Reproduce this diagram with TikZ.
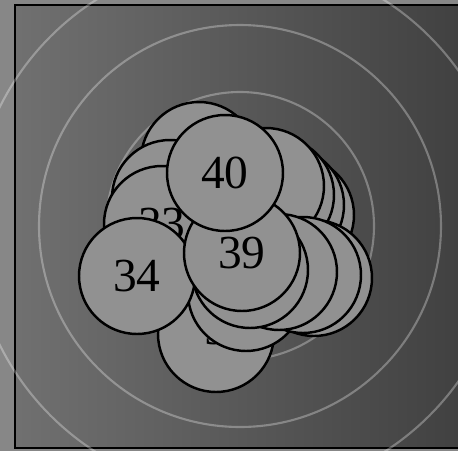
\documentclass[tikz,border=0pt]{standalone}
\usepackage{fontspec}
\setmainfont{Liberation Serif}
\usepackage{tikz}

\begin{document}
\begin{tikzpicture}[
  x=0.02cm, y=-0.02cm,
  disk/.style={circle, draw, fill=black!43, line width=1.4pt, minimum size=2.32cm, inner sep=0pt, font=\fontsize{27}{27}\selectfont},
  ring/.style={draw=white, draw opacity=0.3, line width=1.2pt}
]
\useasboundingbox (0,0) rectangle (458,451);
\clip (0,0) rectangle (458,451);
\fill[black!47] (0,0) rectangle (458,451);
\shade[left color=black!56, right color=black!75] (15,5) rectangle (470,448);
\draw[line width=1.2pt] (15,5) rectangle (470,448);

\coordinate (c) at (240,226);
\foreach \r in {134,201,268}
  \draw[ring] (c) circle[radius=\r];

\node[disk] (n9) at (216,334) {\raisebox{0.22cm}{9}};
\foreach \name/\xx/\yy in {e/246/293, l/296/215, p/286/205, n/276/195, m/266/186,
    i/314/278, h/303/275, g/279/272, f/250/270, a/199/160, b/170/198}
  \node[disk] (\name) at (\xx,\yy) {};
\node[disk] (n33) at (162,224) {33};
\node[disk] (n34) at (137,276) {34};
\node[disk] (n39) at (242,253) {39};
\node[disk] (n40) at (225,173) {40};
\end{tikzpicture}
\end{document}
